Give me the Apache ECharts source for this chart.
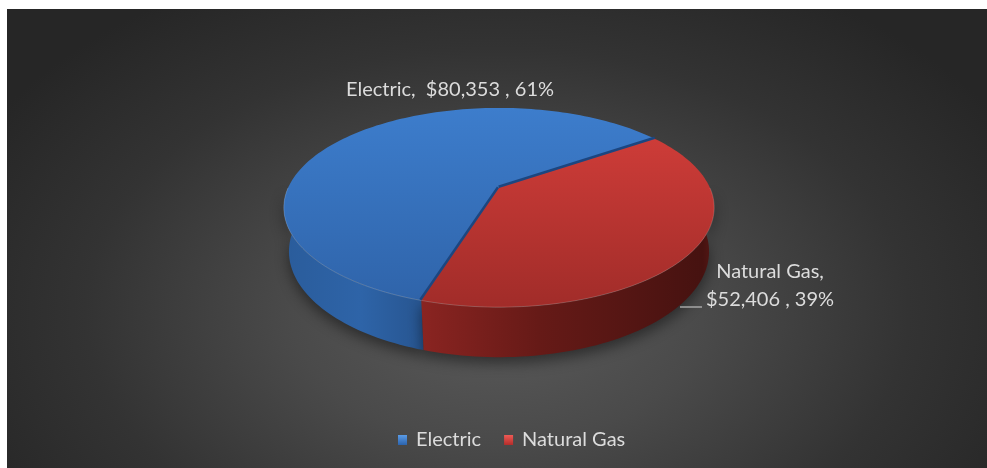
<!DOCTYPE html>
<html>
<head>
<meta charset="utf-8">
<script src="https://cdn.jsdelivr.net/npm/echarts@6/dist/echarts.min.js"></script>
<style>
  html, body { margin: 0; padding: 0; background: #ffffff; }
  #chart {
    position: absolute; left: 7px; top: 9px; width: 980px; height: 459px;
    background: radial-gradient(ellipse 60% 82% at 50% 66%, #5b5b5b 0%, #4a4a4a 35%, #333333 70%, #262626 100%);
  }
</style>
</head>
<body>
<div id="chart"></div>
<script>
// Annual energy cost by fuel type
const categories = ['Electric', 'Natural Gas'];
const costs = [80353, 52406];

// Appearance of each slice: top face, outer wall, legend swatch
const sliceStyles = [
  {
    top: ['#3d7dcc', '#2f64aa'],
    wall: [[0, '#2a5c9b'], [0.55, '#2e64a8'], [1, '#275590']],
    edge: '#1c4680',
    legend: ['#5a9be6', '#2b63ad']
  },
  {
    top: ['#cd3c38', '#a12c29'],
    wall: [[0, '#8a2421'], [0.4, '#661a17'], [0.96, '#461210'], [1, '#561815']],
    edge: '#7a1d1a',
    legend: ['#ef5a55', '#b32d2a']
  }
];

// Projection of a tilted cylinder (unit radius) seen with perspective
const pie3d = {
  cx: 492, cy: 179, radius: 211,
  tilt: 27 * Math.PI / 180,
  dist: 4.544, depth: 0.235,
  startAngle: 252.6 // first slice starts here (degrees, counter-clockwise from +x) and runs clockwise
};

const total = costs.reduce((a, b) => a + b, 0);
const fmtMoney = v => '$' + v.toLocaleString('en-US');
const pct = v => Math.round(v / total * 100) + '%';

function proj(theta, r, h) {
  const s = Math.sin(pie3d.tilt), c = Math.cos(pie3d.tilt);
  const x = r * Math.cos(theta), z = r * Math.sin(theta);
  const Y = z * s + h * c;
  const Z = z * c - h * s;
  const sc = pie3d.dist / (pie3d.dist + Z);
  return [pie3d.cx + pie3d.radius * x * sc, pie3d.cy - pie3d.radius * Y * sc];
}

function arc(fromDeg, toDeg, h) {
  const pts = [];
  const n = Math.max(2, Math.ceil(Math.abs(toDeg - fromDeg) / 1.5));
  for (let j = 0; j <= n; j++) {
    const d = fromDeg + (toDeg - fromDeg) * j / n;
    pts.push(proj(d * Math.PI / 180, 1, h));
  }
  return pts;
}

function sliceAngles(i) {
  let before = 0;
  for (let j = 0; j < i; j++) before += costs[j];
  const a0 = pie3d.startAngle - before / total * 360;
  const a1 = a0 - costs[i] / total * 360;
  return [a1, a0]; // low, high
}

// portion of [lo, hi] that faces the viewer (front half of the rim)
function frontRange(lo, hi) {
  for (let n = -2; n <= 2; n++) {
    const fLo = 180 + 360 * n, fHi = 360 + 360 * n;
    const a = Math.max(lo, fLo), b = Math.min(hi, fHi);
    if (b > a) return [a, b];
  }
  return null;
}

const labelFont = '20px Lato, "Open Sans", sans-serif';

function renderSlice(i) {
  return function (params, api) {
    const st = sliceStyles[i];
    const [lo, hi] = sliceAngles(i);
    const children = [];

    // outer wall
    const fr = frontRange(lo, hi);
    if (fr) {
      const topArc = arc(fr[0], fr[1], 0);
      const botArc = arc(fr[1], fr[0], -pie3d.depth);
      children.push({
        type: 'polygon',
        shape: { points: topArc.concat(botArc) },
        style: {
          fill: new echarts.graphic.LinearGradient(0, 0, 1, 0, st.wall.map(s => ({ offset: s[0], color: s[1] }))),
          shadowBlur: 14, shadowColor: 'rgba(0,0,0,0.45)', shadowOffsetY: 6
        }
      });
    }

    // top face
    const center = proj(0, 0, 0);
    const topPts = [center].concat(arc(hi, lo, 0));
    children.push({
      type: 'polygon',
      shape: { points: topPts },
      style: {
        fill: new echarts.graphic.LinearGradient(0, 0, 0, 1, [
          { offset: 0, color: st.top[0] }, { offset: 1, color: st.top[1] }
        ])
      }
    });

    // rim highlight along the front edge
    if (fr) {
      children.push({
        type: 'polyline',
        shape: { points: arc(fr[0], fr[1], 0) },
        style: { stroke: 'rgba(255,255,255,0.18)', lineWidth: 1, fill: null }
      });
    }

    // radial cut edges
    if (i === 0) {
      [lo, hi].forEach(a => {
        const p = proj(a * Math.PI / 180, 1, 0);
        children.push({
          type: 'line',
          shape: { x1: center[0], y1: center[1], x2: p[0], y2: p[1] },
          style: { stroke: st.edge, lineWidth: 5 }
        });
      });
    }

    // data label
    const rimTop = proj(Math.PI / 2, 1, 0);
    const rimRight = proj(0, 1, 0);
    const v = costs[i];
    if (i === 0) {
      children.push({
        type: 'text',
        style: {
          text: categories[i] + ',  ' + fmtMoney(v) + ' , ' + pct(v),
          x: pie3d.cx - 49, y: rimTop[1] - 18,
          align: 'center', verticalAlign: 'middle',
          fill: '#dcdcdc', font: labelFont
        }
      });
    } else {
      const lx = rimRight[0] + 60, ly = rimRight[1] + 98;
      children.push({
        type: 'text',
        style: {
          text: categories[i] + ',\n' + fmtMoney(v) + ' , ' + pct(v),
          x: lx, y: ly,
          align: 'center', verticalAlign: 'middle', lineHeight: 28,
          fill: '#dcdcdc', font: labelFont
        }
      });
      children.push({
        type: 'line',
        shape: { x1: lx - 90, y1: ly + 21, x2: lx - 68, y2: ly + 21 },
        style: { stroke: '#a6a6a6', lineWidth: 1.5 }
      });
    }

    return { type: 'group', children };
  };
}

const chart = echarts.init(document.getElementById('chart'), null, { renderer: 'canvas' });
chart.setOption({
  backgroundColor: 'transparent',
  animation: false,
  legend: {
    data: categories.map((name, i) => ({
      name,
      itemStyle: {
        color: new echarts.graphic.LinearGradient(0, 0, 0, 1, [
          { offset: 0, color: sliceStyles[i].legend[0] }, { offset: 1, color: sliceStyles[i].legend[1] }
        ])
      }
    })),
    left: 386, top: 416,
    icon: 'rect', itemWidth: 9, itemHeight: 10, itemGap: 23,
    selectedMode: false,
    textStyle: { color: '#dcdcdc', fontSize: 20, fontFamily: 'Lato, "Open Sans", sans-serif', padding: [0, 0, 0, 4] }
  },
  series: categories.map((name, i) => ({
    type: 'custom',
    name,
    coordinateSystem: 'none',
    itemStyle: { color: sliceStyles[i].top[0] },
    data: [costs[i]],
    renderItem: renderSlice(i)
  }))
});
</script>
</body>
</html>
